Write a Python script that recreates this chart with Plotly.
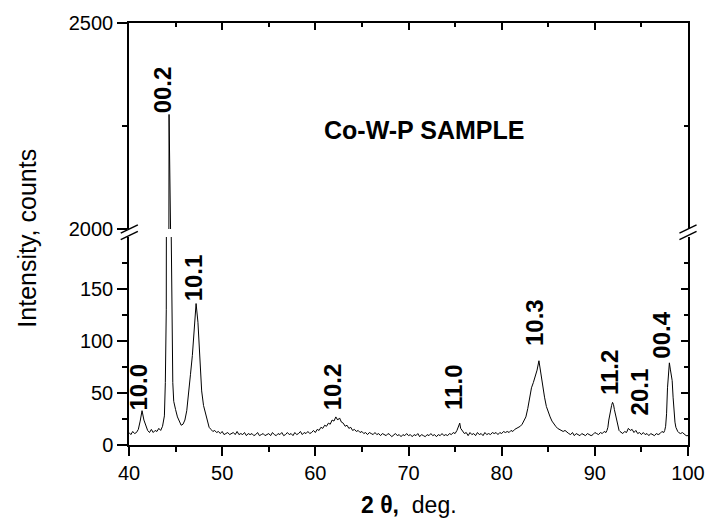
import plotly.graph_objects as go

# ---- data ----
two_theta = [
    40.0, 40.2, 40.4, 40.6, 40.8, 41.0, 41.2, 41.4, 41.6, 41.8,
    42.0, 42.2, 42.4, 42.6, 42.8, 43.0, 43.2, 43.4, 43.6, 43.8,
    43.9, 44.0, 44.1, 44.2, 44.3, 44.4, 44.5, 44.6, 44.7, 44.8,
    44.9, 45.0,
    45.2, 45.4, 45.6, 45.8, 46.0, 46.2, 46.4, 46.6, 46.8, 47.0,
    47.2, 47.4, 47.6, 47.8, 48.0, 48.2, 48.4, 48.6, 48.8, 49.0,
    49.2, 49.4, 49.6, 49.8, 50.0, 50.2, 50.4, 50.6, 50.8, 51.0,
    51.2, 51.4, 51.6, 51.8, 52.0, 52.2, 52.4, 52.6, 52.8, 53.0,
    53.2, 53.4, 53.6, 53.8, 54.0, 54.2, 54.4, 54.6, 54.8, 55.0,
    55.2, 55.4, 55.6, 55.8, 56.0, 56.2, 56.4, 56.6, 56.8, 57.0,
    57.2, 57.4, 57.6, 57.8, 58.0, 58.2, 58.4, 58.6, 58.8, 59.0,
    59.2, 59.4, 59.6, 59.8,
    60.0, 60.2, 60.4, 60.6, 60.8, 61.0, 61.2, 61.4, 61.6, 61.8,
    62.0, 62.2, 62.4, 62.6, 62.8, 63.0, 63.2, 63.4, 63.6, 63.8,
    64.0, 64.2, 64.4, 64.6, 64.8, 65.0, 65.2, 65.4, 65.6, 65.8,
    66.0, 66.2, 66.4, 66.6, 66.8,
    67.0, 67.2, 67.4, 67.6, 67.8, 68.0, 68.2, 68.4, 68.6, 68.8,
    69.0, 69.2, 69.4, 69.6, 69.8, 70.0, 70.2, 70.4, 70.6, 70.8,
    71.0, 71.2, 71.4, 71.6, 71.8, 72.0, 72.2, 72.4, 72.6, 72.8,
    73.0, 73.2, 73.4, 73.6, 73.8, 74.0, 74.2, 74.4, 74.6, 74.8,
    75.0,
    75.2, 75.4, 75.5, 75.6, 75.8,
    76.0, 76.2, 76.4, 76.6, 76.8, 77.0, 77.2, 77.4, 77.6, 77.8,
    78.0, 78.2, 78.4, 78.6, 78.8, 79.0, 79.2, 79.4, 79.6, 79.8,
    80.0, 80.2, 80.4, 80.6, 80.8,
    81.0, 81.2, 81.4, 81.6, 81.8, 82.0, 82.2, 82.4, 82.6, 82.8,
    83.0, 83.2, 83.4, 83.6, 83.8, 84.0, 84.2, 84.4, 84.6, 84.8,
    85.0, 85.2, 85.4, 85.6, 85.8, 86.0, 86.2, 86.4, 86.6, 86.8,
    87.0,
    87.2, 87.4, 87.6, 87.8, 88.0, 88.2, 88.4, 88.6, 88.8, 89.0,
    89.2, 89.4, 89.6, 89.8, 90.0, 90.2, 90.4, 90.6, 90.8, 91.0,
    91.2,
    91.3, 91.4, 91.5, 91.6, 91.7, 91.8, 91.9, 92.0, 92.1, 92.2,
    92.3, 92.4, 92.5, 92.6, 92.7, 92.8,
    93.0, 93.2, 93.4, 93.6, 93.8, 94.0, 94.2, 94.4, 94.6, 94.8,
    95.0, 95.2, 95.4, 95.6, 95.8, 96.0, 96.2, 96.4, 96.6, 96.8,
    97.0, 97.2, 97.4,
    97.5, 97.6, 97.7, 97.8, 97.9, 98.0, 98.1, 98.2, 98.3, 98.4,
    98.5, 98.6, 98.7, 98.8, 98.9,
    99.0, 99.2, 99.4, 99.6, 99.8, 100.0,
]
intensity = [
    12, 10, 13, 11, 12, 15, 23, 33, 24, 18,
    14, 12, 15, 12, 14, 13, 16, 14, 18, 28,
    60, 130, 300, 820, 2278, 640, 230, 110, 60, 42,
    37, 34,
    27, 22, 19, 20, 24, 33, 48, 68, 86, 110,
    136, 118, 88, 52, 38, 30, 25, 17, 15, 13,
    14, 12, 13, 11, 13, 10, 11, 12, 10, 11,
    12, 10, 13, 10, 11, 10, 12, 9, 11, 10,
    11, 9, 10, 12, 9, 10, 11, 9, 10, 11,
    9, 12, 10, 9, 11, 10, 12, 9, 10, 12,
    10, 11, 9, 12, 10, 11, 13, 10, 12, 11,
    13, 11, 12, 14,
    12, 15, 14, 17, 16, 19, 18, 21, 20, 24,
    23, 27, 24, 26, 22, 21, 18, 19, 16, 17,
    14, 15, 13, 14, 12, 13, 11, 12, 10, 12,
    11, 10, 12, 10, 11,
    9, 11, 10, 9, 11, 10, 8, 10, 11, 9,
    10, 8, 10, 9, 11, 9, 10, 8, 10, 9,
    11, 8, 10, 9, 8, 10, 9, 11, 9, 10,
    8, 10, 9, 11, 9, 10, 9, 11, 10, 12,
    11,
    14, 18, 21, 16, 13,
    11, 12, 9, 12, 10, 11, 9, 12, 10, 11,
    9, 12, 10, 11, 10, 12, 11, 12, 10, 12,
    11, 13, 12, 13, 12,
    14, 13, 15, 16, 17, 18, 20, 23, 27, 35,
    44, 55, 60, 65, 72, 81, 68, 57, 46, 37,
    31, 27, 23, 20, 18, 16, 15, 14, 13, 14,
    12,
    11, 10, 12, 9, 11, 10, 9, 11, 10, 9,
    11, 10, 9, 10, 12, 11, 10, 12, 11, 13,
    12,
    14, 17, 24, 30, 35, 38, 41, 39, 34, 30,
    25, 20, 16, 14, 13, 12,
    11, 13, 12, 16, 14, 15, 12, 14, 11, 12,
    10, 12, 10, 11, 9, 11, 10, 9, 11, 10,
    11, 13, 12,
    14, 18, 30, 55, 70, 79, 73, 68, 62, 46,
    31, 22, 17, 14, 13,
    12, 11, 12, 10, 9, 9,
]
assert len(two_theta) == len(intensity)

peak_labels = ["10.0", "00.2", "10.1", "10.2", "11.0", "10.3", "11.2", "20.1", "00.4"]
label_x = [41.0, 43.6, 46.9, 61.8, 74.85, 83.6, 91.57, 94.74, 97.15]
label_y = [31, 2276, 136, 31, 32, 93, 46, 27, 81]
label_axis = ["y", "y2", "y", "y", "y", "y", "y", "y", "y"]

lower_range = [0, 200]
upper_range = [2000, 2500]
lower_ticks = [0, 50, 100, 150]
lower_minor = [25, 75, 125, 175]
upper_ticks = [2000, 2500]
upper_minor = [2250]
x_range = [40, 100]

FONT = "Liberation Sans, Arial, sans-serif"
W, H = 717, 524
ML, MR, MT, MB = 129, 20, 23, 79
PW, PH = W - ML - MR, H - MT - MB

def py2paper(py):
    return 1 - (py - MT) / PH

def px2paper(px):
    return (px - ML) / PW

low_top = py2paper(237)
up_bot = py2paper(229)

fig = go.Figure()
line = dict(color="black", width=1)
fig.add_trace(go.Scatter(x=two_theta, y=intensity, mode="lines", line=line,
                         xaxis="x", yaxis="y", showlegend=False, hoverinfo="skip"))
fig.add_trace(go.Scatter(x=two_theta, y=intensity, mode="lines", line=line,
                         xaxis="x", yaxis="y2", showlegend=False, hoverinfo="skip"))
# dummy traces so the mirror axes are drawn
fig.add_trace(go.Scatter(x=[None], y=[None], xaxis="x2", yaxis="y3", showlegend=False))
fig.add_trace(go.Scatter(x=[None], y=[None], xaxis="x2", yaxis="y4", showlegend=False))

common = dict(showgrid=False, zeroline=False, showline=True, linecolor="black",
              linewidth=1.5, tickcolor="black", tickwidth=1.5,
              tickfont=dict(family=FONT, size=20, color="black"))

fig.update_layout(
    width=W, height=H,
    margin=dict(l=ML, r=MR, t=MT, b=MB),
    paper_bgcolor="white", plot_bgcolor="white",
    xaxis=dict(domain=[0, 1], range=x_range, anchor="y", dtick=10, tick0=40,
               ticks="outside", ticklen=9,
               minor=dict(dtick=5, ticks="outside", ticklen=5, tickwidth=1.5, tickcolor="black"),
               **common),
    xaxis2=dict(range=x_range, overlaying="x", side="top", anchor="y2", dtick=10, tick0=40,
                ticks="inside", ticklen=7, showticklabels=False,
                minor=dict(dtick=5, ticks="inside", ticklen=4, tickwidth=1.5, tickcolor="black"),
                **common),
    yaxis=dict(domain=[0, low_top], range=lower_range, anchor="x",
               tickmode="array", tickvals=lower_ticks, ticks="outside", ticklen=10,
               minor=dict(tickvals=lower_minor, ticks="outside", ticklen=5, tickwidth=1.5, tickcolor="black"),
               **common),
    yaxis2=dict(domain=[up_bot, 1], range=upper_range, anchor="x",
                tickmode="array", tickvals=upper_ticks, ticks="outside", ticklen=10,
                minor=dict(tickvals=upper_minor, ticks="outside", ticklen=5, tickwidth=1.5, tickcolor="black"),
                **common),
    yaxis3=dict(range=lower_range, overlaying="y", side="right", anchor="x",
                tickmode="array", tickvals=lower_ticks, ticks="inside", ticklen=7,
                showticklabels=False,
                minor=dict(tickvals=lower_minor, ticks="inside", ticklen=4, tickwidth=1.5, tickcolor="black"),
                **common),
    yaxis4=dict(range=upper_range, overlaying="y2", side="right", anchor="x",
                tickmode="array", tickvals=upper_ticks, ticks="inside", ticklen=7,
                showticklabels=False,
                minor=dict(tickvals=upper_minor, ticks="inside", ticklen=4, tickwidth=1.5, tickcolor="black"),
                **common),
)

# axis break marks
shapes = []
for spine_px in (129.3, 697):
    for cy in (229.0, 235.5):
        shapes.append(dict(type="line", xref="paper", yref="paper",
                           x0=px2paper(spine_px - 8.7), y0=py2paper(cy + 4.2),
                           x1=px2paper(spine_px + 8.7), y1=py2paper(cy - 4.2),
                           line=dict(color="black", width=1.5)))
fig.update_layout(shapes=shapes)

ann = []
for t, x, y, ax in zip(peak_labels, label_x, label_y, label_axis):
    ann.append(dict(text="<b>%s</b>" % t, x=x, y=y, xref="x", yref=ax,
                    textangle=-90, showarrow=False, xanchor="center", yanchor="bottom",
                    font=dict(family=FONT, size=24, color="black")))
ann.append(dict(text="<b>Co-W-P SAMPLE</b>", x=px2paper(429), y=py2paper(130.5),
                xref="paper", yref="paper", showarrow=False, xanchor="center", yanchor="middle",
                font=dict(family=FONT, size=25, color="black")))
ann.append(dict(text="Intensity, counts", x=px2paper(25), y=py2paper(238),
                xref="paper", yref="paper", showarrow=False, textangle=-90,
                xanchor="center", yanchor="middle",
                font=dict(family=FONT, size=25, color="black")))
ann.append(dict(text="<b>2 \u03b8,</b>\u00a0\u00a0deg.", x=px2paper(413), y=py2paper(505),
                xref="paper", yref="paper", showarrow=False,
                xanchor="center", yanchor="middle",
                font=dict(family=FONT, size=23, color="black")))
fig.update_layout(annotations=ann)

fig.write_html("out.html")
